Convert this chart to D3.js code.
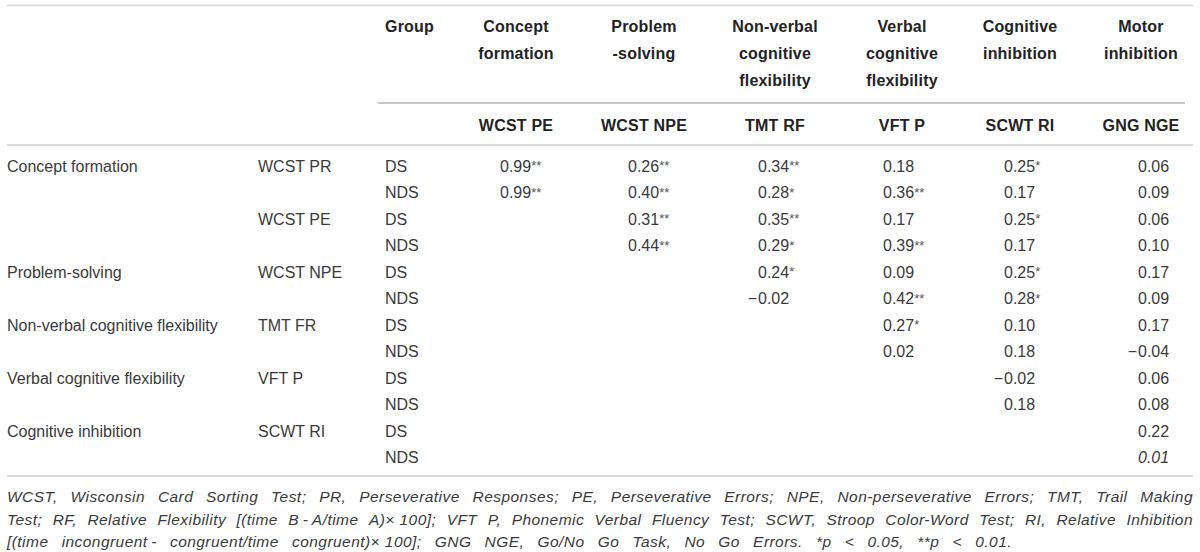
<!DOCTYPE html>
<html>
<head>
<meta charset="utf-8">
<script src="https://cdn.jsdelivr.net/npm/d3@7"></script>
<style>
  html, body { margin: 0; padding: 0; background: #fff; }
  svg { display: block; font-family: "Liberation Sans", Arial, Helvetica, sans-serif; }
</style>
</head>
<body>
<div id="chartArea"></div>
<script>
// column headings (constructs) and their measures
var colHeaders = [["Concept", "formation"], ["Problem", "-solving"],
                  ["Non-verbal", "cognitive", "flexibility"], ["Verbal", "cognitive", "flexibility"],
                  ["Cognitive", "inhibition"], ["Motor", "inhibition"]];
var colMeasures = ["WCST PE", "WCST NPE", "TMT RF", "VFT P", "SCWT RI", "GNG NGE"];

// row labels
var rowConstruct = ["Concept formation", "", "", "", "Problem-solving", "", "Non-verbal cognitive flexibility", "",
                    "Verbal cognitive flexibility", "", "Cognitive inhibition", ""];
var rowMeasure = ["WCST PR", "", "WCST PE", "", "WCST NPE", "", "TMT FR", "", "VFT P", "", "SCWT RI", ""];
var rowGroup = ["DS", "NDS", "DS", "NDS", "DS", "NDS", "DS", "NDS", "DS", "NDS", "DS", "NDS"];

// correlation values (null = empty cell) and significance stars
var values = [
  [0.99, 0.26, 0.34, 0.18, 0.25, 0.06],
  [0.99, 0.40, 0.28, 0.36, 0.17, 0.09],
  [null, 0.31, 0.35, 0.17, 0.25, 0.06],
  [null, 0.44, 0.29, 0.39, 0.17, 0.10],
  [null, null, 0.24, 0.09, 0.25, 0.17],
  [null, null, -0.02, 0.42, 0.28, 0.09],
  [null, null, null, 0.27, 0.10, 0.17],
  [null, null, null, 0.02, 0.18, -0.04],
  [null, null, null, null, -0.02, 0.06],
  [null, null, null, null, 0.18, 0.08],
  [null, null, null, null, null, 0.22],
  [null, null, null, null, null, 0.01]
];
var stars = [
  ["**", "**", "**", "", "*", ""],
  ["**", "**", "*", "**", "", ""],
  ["", "**", "**", "", "*", ""],
  ["", "**", "*", "**", "", ""],
  ["", "", "*", "", "*", ""],
  ["", "", "", "**", "*", ""],
  ["", "", "", "*", "", ""],
  ["", "", "", "", "", ""],
  ["", "", "", "", "", ""],
  ["", "", "", "", "", ""],
  ["", "", "", "", "", ""],
  ["", "", "", "", "", ""]
];
var italicCell = [11, 5];

var footnote = "WCST, Wisconsin Card Sorting Test; PR, Perseverative Responses; PE, Perseverative Errors; NPE, Non-perseverative Errors; TMT, Trail Making|" +
  "Test; RF, Relative Flexibility [(time B\u2009-\u2009A/time A)\u00d7\u00a0100]; VFT P, Phonemic Verbal Fluency Test; SCWT, Stroop Color-Word Test; RI, Relative Inhibition|" +
  "[(time incongruent\u2009- congruent/time congruent)\u00d7\u00a0100]; GNG NGE, Go/No Go Task, No Go Errors. *p < 0.05, **p < 0.01.";

var width = 1200, height = 552;
var left = 7, right = 1193, lastLineEnd = 1012;

var svg = d3.select('#chartArea').append('svg')
    .attr("width", width)
    .attr("height", height);

// scales: rows and columns
var yscale = d3.scalePoint().domain(d3.range(rowGroup.length)).range([166, 457.5]);
var colCenter = d3.scaleOrdinal().domain(d3.range(6)).range([516, 644, 775, 902, 1020, 1141]);
var colStart = d3.scaleOrdinal().domain(d3.range(6)).range([500, 628, 758, 883, 1004, 1138]);
var headY = d3.scaleLinear().domain([0, 1]).range([26, 53]);
var fmt = d3.format(".2f");

// rules
var rules = [
  {x1: left, x2: right, y: 5.5, c: "#dcdcdc", w: 2},
  {x1: 378, x2: 1185, y: 103, c: "#b5b5b5", w: 1.5},
  {x1: left, x2: right, y: 145, c: "#dcdcdc", w: 2},
  {x1: left, x2: right, y: 476, c: "#dcdcdc", w: 2}
];
svg.selectAll("line.rule").data(rules).enter().append("line")
    .attr("class", "rule")
    .attr("x1", d => d.x1).attr("x2", d => d.x2)
    .attr("y1", d => d.y).attr("y2", d => d.y)
    .attr("stroke", d => d.c).attr("stroke-width", d => d.w);

// header
var head = svg.append("g").attr("font-weight", "bold").attr("font-size", 16).attr("fill", "#222")
    .attr("letter-spacing", 0.2);
head.append("text").attr("x", 385).attr("y", headY(0)).attr("dy", "0.35em").text("Group");
colHeaders.forEach(function(lines, i) {
    head.append("text")
        .attr("text-anchor", "middle")
        .selectAll("tspan").data(lines).enter().append("tspan")
        .attr("x", colCenter(i))
        .attr("y", (d, k) => headY(k))
        .attr("dy", "0.35em")
        .text(d => d);
});
head.selectAll("text.meas").data(colMeasures).enter().append("text")
    .attr("class", "meas")
    .attr("text-anchor", "middle")
    .attr("x", (d, i) => colCenter(i))
    .attr("y", 125).attr("dy", "0.35em")
    .text(d => d);

// body labels
var body = svg.append("g").attr("font-size", 16).attr("fill", "#3a3a3a");
function labelCol(arr, x) {
    body.selectAll(null).data(arr).enter().append("text")
        .attr("x", x)
        .attr("y", (d, i) => yscale(i)).attr("dy", "0.35em")
        .text(d => d);
}
labelCol(rowConstruct, left);
labelCol(rowMeasure, 258);
labelCol(rowGroup, 385);

// cells
var cells = [];
values.forEach(function(row, r) {
    row.forEach(function(v, c) {
        if (v !== null) cells.push({r: r, c: c, v: v, s: stars[r][c]});
    });
});
var cg = body.selectAll("g.cell").data(cells).enter().append("g").attr("class", "cell")
    .attr("font-style", d => (d.r === italicCell[0] && d.c === italicCell[1]) ? "italic" : "normal");
cg.filter(d => d.v < 0).append("text")
    .attr("text-anchor", "end")
    .attr("x", d => colStart(d.c) - 1)
    .attr("y", d => yscale(d.r)).attr("dy", "0.35em")
    .text("\u2212");
var ct = cg.append("text")
    .attr("x", d => colStart(d.c))
    .attr("y", d => yscale(d.r)).attr("dy", "0.35em");
ct.append("tspan").text(d => fmt(Math.abs(d.v)));
ct.filter(d => d.s).append("tspan")
    .attr("font-size", 13).attr("dy", "-0.1em").attr("fill", "#555")
    .text(d => d.s);

// footnote, justified
var foot = svg.append("g").attr("font-size", 15.5).attr("font-style", "italic").attr("fill", "#3a3a3a")
    .attr("letter-spacing", 0.45);
var footLines = footnote.split("|");
var footY = d3.scaleLinear().domain([0, 1]).range([497, 519.5]);
footLines.forEach(function(line, li) {
    var words = line.split(" ");
    var t = foot.selectAll(null).data(words).enter().append("text")
        .attr("y", footY(li)).attr("dy", "0.35em")
        .text(d => d);
    var widths = [];
    t.each(function() { widths.push(this.getComputedTextLength()); });
    var total = d3.sum(widths);
    var end = (li < footLines.length - 1) ? right : lastLineEnd;
    var gap = (end - left - total) / (words.length - 1);
    var x = left;
    t.attr("x", function(d, i) { var xx = x; x += widths[i] + gap; return xx; });
});
</script>
</body>
</html>
